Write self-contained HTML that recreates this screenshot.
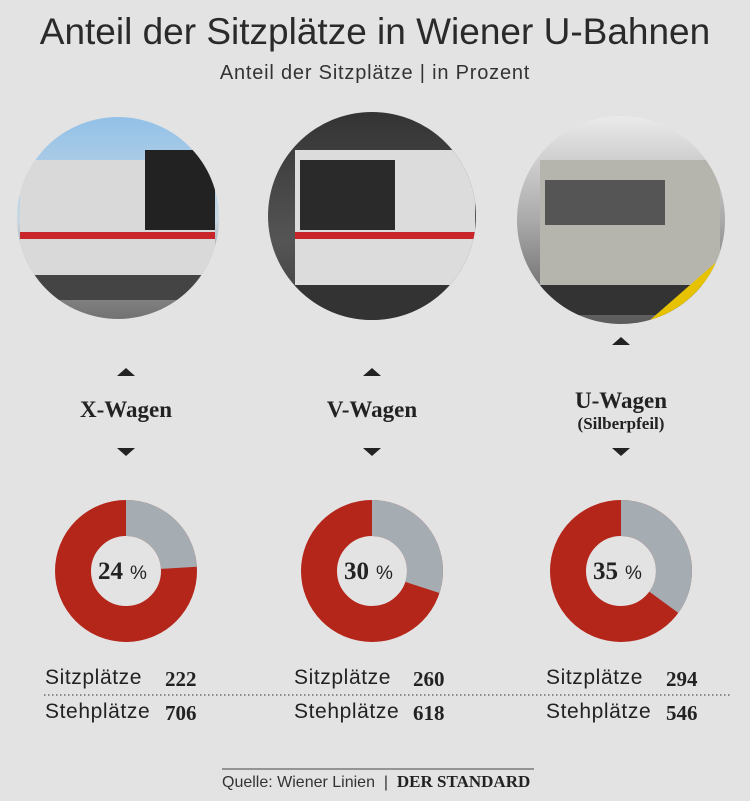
<!DOCTYPE html>
<html><head><meta charset="utf-8"><style>
body{margin:0;width:750px;height:801px;background:#e3e3e3;position:relative;overflow:hidden;font-family:"Liberation Sans",sans-serif;color:#222}
.a{position:absolute;white-space:nowrap}
.t{left:0;width:750px;text-align:center}
.serif{font-family:"Liberation Serif",serif;font-weight:bold}
.lb{font-size:21px;letter-spacing:0.6px}
</style></head><body>
<div class="a t" style="top:11px;font-size:37px;color:#2a2a2a">Anteil der Sitzplätze in Wiener U-Bahnen</div>
<div class="a t" style="top:62px;font-size:20px;letter-spacing:0.8px;color:#333">Anteil der Sitzplätze | in Prozent</div>
<svg class="a" style="left:0;top:0" width="750" height="801">
<defs>
<linearGradient id="sky" x1="0" y1="0" x2="0" y2="1"><stop offset="0" stop-color="#8fbfe8"/><stop offset="0.5" stop-color="#c8d8e4"/><stop offset="0.7" stop-color="#9a9a9a"/><stop offset="1" stop-color="#6a6a6a"/></linearGradient>
<linearGradient id="dk" x1="0" y1="0" x2="0" y2="1"><stop offset="0" stop-color="#333"/><stop offset="0.6" stop-color="#555"/><stop offset="1" stop-color="#3a3a3a"/></linearGradient>
<linearGradient id="st" x1="0" y1="0" x2="0" y2="1"><stop offset="0" stop-color="#eee"/><stop offset="0.5" stop-color="#aaa"/><stop offset="1" stop-color="#555"/></linearGradient>
<clipPath id="c1"><circle cx="118" cy="218" r="101"/></clipPath>
<clipPath id="c2"><circle cx="372" cy="216" r="104"/></clipPath>
<clipPath id="c3"><circle cx="621" cy="220" r="104"/></clipPath>
</defs>
<g clip-path="url(#c1)"><rect x="0" y="110" width="240" height="220" fill="url(#sky)"/>
<rect x="20" y="160" width="195" height="120" fill="#d9d9d9"/><rect x="145" y="150" width="70" height="80" fill="#222"/>
<rect x="20" y="232" width="195" height="7" fill="#c8262a"/><rect x="20" y="275" width="195" height="25" fill="#444"/></g>
<g clip-path="url(#c2)"><rect x="260" y="110" width="230" height="220" fill="url(#dk)"/>
<rect x="295" y="150" width="180" height="140" fill="#dcdcdc"/><rect x="300" y="160" width="95" height="70" fill="#2a2a2a"/>
<rect x="295" y="232" width="180" height="7" fill="#c8262a"/><rect x="295" y="285" width="180" height="35" fill="#333"/></g>
<g clip-path="url(#c3)"><rect x="510" y="110" width="230" height="220" fill="url(#st)"/>
<rect x="540" y="160" width="180" height="125" fill="#b5b5ae"/><rect x="545" y="180" width="120" height="45" fill="#555"/>
<rect x="540" y="285" width="180" height="30" fill="#333"/><polygon points="650,320 730,250 730,270 670,330" fill="#e6c200"/></g>
<g fill="#222">
<polygon points="117,376 126,368 135,376"/><polygon points="117,448 126,456 135,448"/>
<polygon points="363,376 372,368 381,376"/><polygon points="363,448 372,456 381,448"/>
<polygon points="612,345 621,337 630,345"/><polygon points="612,448 621,456 630,448"/>
</g>
<g fill="none" stroke-width="36" transform="rotate(-90)">
<circle cx="-571" cy="126" r="53" stroke="#b5261a"/>
<circle cx="-571" cy="126" r="53" stroke="#a5adb3" stroke-dasharray="79.9 400"/>
<circle cx="-571" cy="372" r="53" stroke="#b5261a"/>
<circle cx="-571" cy="372" r="53" stroke="#a5adb3" stroke-dasharray="99.9 400"/>
<circle cx="-571" cy="621" r="53" stroke="#b5261a"/>
<circle cx="-571" cy="621" r="53" stroke="#a5adb3" stroke-dasharray="116.6 400"/>
</g>
<line x1="44" y1="695" x2="732" y2="695" stroke="#555" stroke-width="1.3" stroke-dasharray="1.5 2.5"/>
<line x1="222" y1="769" x2="534" y2="769" stroke="#444" stroke-width="1"/>
</svg>
<div class="a serif" style="left:0;width:252px;text-align:center;top:397px;font-size:23px">X-Wagen</div>
<div class="a serif" style="left:246px;width:252px;text-align:center;top:397px;font-size:23px">V-Wagen</div>
<div class="a serif" style="left:495px;width:252px;text-align:center;top:388px;font-size:23px">U-Wagen</div>
<div class="a serif" style="left:495px;width:252px;text-align:center;top:414px;font-size:17px">(Silberpfeil)</div>
<div class="a" style="left:98px;top:557px;font-size:25px"><span class="serif">24</span> <span style="font-size:19px">%</span></div>
<div class="a" style="left:344px;top:557px;font-size:25px"><span class="serif">30</span> <span style="font-size:19px">%</span></div>
<div class="a" style="left:593px;top:557px;font-size:25px"><span class="serif">35</span> <span style="font-size:19px">%</span></div>
<div class="a lb" style="left:45px;top:666px">Sitzplätze</div><div class="a serif" style="left:165px;top:667px;font-size:21px">222</div>
<div class="a lb" style="left:45px;top:700px">Stehplätze</div><div class="a serif" style="left:165px;top:701px;font-size:21px">706</div>
<div class="a lb" style="left:294px;top:666px">Sitzplätze</div><div class="a serif" style="left:413px;top:667px;font-size:21px">260</div>
<div class="a lb" style="left:294px;top:700px">Stehplätze</div><div class="a serif" style="left:413px;top:701px;font-size:21px">618</div>
<div class="a lb" style="left:546px;top:666px">Sitzplätze</div><div class="a serif" style="left:666px;top:667px;font-size:21px">294</div>
<div class="a lb" style="left:546px;top:700px">Stehplätze</div><div class="a serif" style="left:666px;top:701px;font-size:21px">546</div>
<div class="a" style="left:222px;top:772px;font-size:16px;color:#333">Quelle: Wiener Linien &nbsp;|&nbsp; <span class="serif" style="font-size:17px;color:#222">DER STANDARD</span></div>
</body></html>
